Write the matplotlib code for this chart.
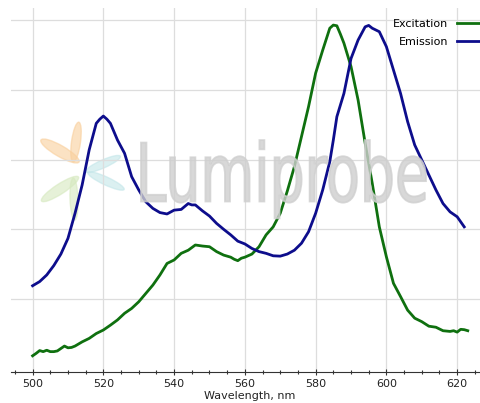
import numpy as np
import matplotlib
matplotlib.use("Agg")
import matplotlib.pyplot as plt
from matplotlib.textpath import TextPath
from matplotlib.patches import PathPatch, Ellipse
from matplotlib.font_manager import FontProperties
from matplotlib.transforms import Affine2D
from matplotlib.ticker import MultipleLocator

# spectra (normalised intensity)
ex_nm = [500, 501, 502, 503, 504, 505, 506, 507, 508, 509, 510, 511, 512, 514, 516, 518,
         520, 522, 524, 526, 528, 530, 532, 534, 536, 538, 540, 542, 544, 546, 548, 550,
         552, 554, 556, 557, 558, 559, 560, 562, 564, 566, 568, 570, 572, 574, 576, 578,
         580, 582, 584, 585, 586, 587, 588, 590, 592, 594, 596, 598, 600, 602, 604, 606,
         608, 610, 612, 614, 616, 618, 619, 620, 621, 622, 623]
ex_val = [0.037, 0.044, 0.052, 0.049, 0.053, 0.049, 0.049, 0.051, 0.058, 0.065, 0.060, 0.061,
          0.065, 0.077, 0.087, 0.101, 0.111, 0.125, 0.140, 0.159, 0.173, 0.192, 0.216, 0.240,
          0.269, 0.302, 0.312, 0.331, 0.340, 0.355, 0.352, 0.350, 0.336, 0.326, 0.320, 0.314,
          0.310, 0.317, 0.320, 0.329, 0.350, 0.384, 0.407, 0.446, 0.510, 0.580, 0.666, 0.752,
          0.848, 0.914, 0.977, 0.986, 0.984, 0.960, 0.934, 0.867, 0.771, 0.647, 0.532, 0.407,
          0.321, 0.245, 0.207, 0.168, 0.145, 0.135, 0.122, 0.119, 0.109, 0.107, 0.109, 0.105,
          0.113, 0.112, 0.109]

em_nm = [500, 502, 504, 506, 508, 510, 512, 514, 516, 518, 519, 520, 521, 522, 524, 526,
         528, 530, 532, 534, 536, 538, 540, 542, 544, 545, 546, 548, 550, 552, 554, 556,
         558, 560, 562, 564, 566, 568, 570, 572, 574, 576, 578, 580, 582, 584, 585, 586,
         588, 590, 592, 594, 595, 596, 598, 600, 602, 604, 606, 608, 610, 612, 614, 616,
         618, 620, 622]
em_val = [0.238, 0.250, 0.269, 0.296, 0.329, 0.374, 0.446, 0.527, 0.628, 0.704, 0.716, 0.725,
          0.716, 0.704, 0.656, 0.618, 0.551, 0.513, 0.479, 0.460, 0.448, 0.444, 0.455, 0.457,
          0.474, 0.470, 0.470, 0.453, 0.438, 0.417, 0.400, 0.384, 0.366, 0.358, 0.345, 0.336,
          0.331, 0.324, 0.323, 0.329, 0.340, 0.360, 0.393, 0.446, 0.513, 0.594, 0.656, 0.723,
          0.790, 0.890, 0.943, 0.981, 0.985, 0.977, 0.967, 0.924, 0.857, 0.790, 0.709, 0.642,
          0.599, 0.556, 0.513, 0.474, 0.450, 0.436, 0.407]

W, H = 481, 403
fig = plt.figure(figsize=(W / 100, H / 100), dpi=100)
ax = fig.add_axes([11 / W, 1 - 372.3 / H, 478 / W, 364.3 / H])

# faint watermark logo
pix = Affine2D().scale(1 / W, 1 / H) + fig.transFigure
petals = [((60, 151), 44, 11, -30, "#f9cf9c"),
          ((76, 142), 40, 9, 82, "#f9cf9c"),
          ((103, 164), 38, 8, 24, "#c3e6e9"),
          ((106, 181), 40, 8, -25, "#c3e6e9"),
          ((60, 189), 44, 10, 33, "#d6e9bf"),
          ((74, 199), 42, 8, -88, "#d6e9bf")]
for (cx, cy), w, h, ang, col in petals:
    fig.add_artist(Ellipse((cx, H - cy), w, h, angle=ang, color=col, alpha=0.6,
                           transform=pix, zorder=0))
tp = TextPath((0, 0), "Lumiprobe", size=1, prop=FontProperties(family="DejaVu Sans"))
bb = tp.get_extents()
sx = (426 - 141) / bb.width
sy = 59 / 0.73
tr = Affine2D().translate(-bb.x0, 0).scale(sx, sy).translate(141, H - 201.5) + pix
fig.add_artist(PathPatch(tp, transform=tr, facecolor="#cfcfcf", edgecolor="#cfcfcf",
                         lw=1.3, alpha=0.8, zorder=0.5))

ax.set_facecolor("none")
ax.plot(ex_nm, ex_val, color="#0f700f", lw=2, label="Excitation", zorder=3)
ax.plot(em_nm, em_val, color="#0d0d8c", lw=2, label="Emission", zorder=3)

ax.set_xlim(493.9, 629)
ax.set_ylim(-0.0103, 1.035)
ax.xaxis.set_major_locator(MultipleLocator(20))
ax.xaxis.set_minor_locator(MultipleLocator(5))
ax.set_yticks([0.2, 0.4, 0.6, 0.8, 1.0])
ax.tick_params(axis="y", left=False, labelleft=False)
ax.tick_params(axis="x", which="major", direction="inout", length=5, width=0.8,
               color="#333333", labelsize=8, labelcolor="#222222", pad=2)
ax.tick_params(axis="x", which="minor", direction="inout", length=3.5, width=0.8,
               color="#333333")
ax.grid(True, color="#dddddd", lw=0.9)
ax.set_axisbelow(True)
for s in ["left", "right", "top"]:
    ax.spines[s].set_visible(False)
ax.spines["bottom"].set_color("#333333")
ax.spines["bottom"].set_linewidth(0.8)
ax.set_xlabel("Wavelength, nm", fontsize=8, color="#222222", labelpad=2)

ax.legend(loc="upper right", bbox_to_anchor=(486 / W, 1 - 19 / H),
          bbox_transform=fig.transFigure, frameon=False, markerfirst=False,
          fontsize=8, handlelength=2.6, handletextpad=0.8, labelspacing=0.75,
          borderpad=0, borderaxespad=0)

fig.savefig("out.png", dpi=100)
